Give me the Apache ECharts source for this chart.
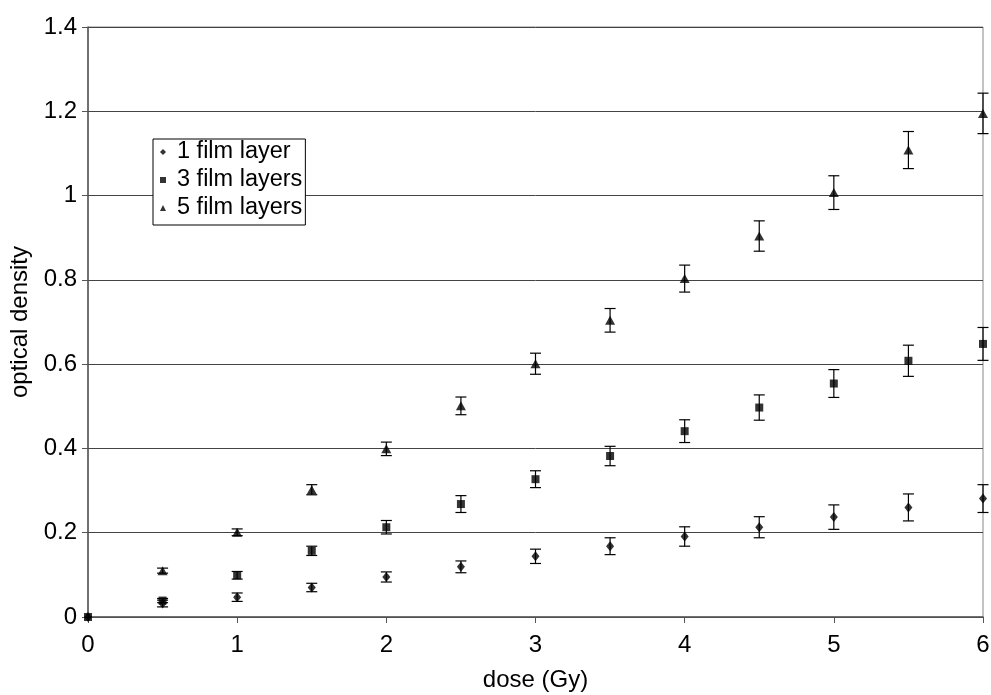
<!DOCTYPE html>
<html>
<head>
<meta charset="utf-8">
<script src="https://cdn.jsdelivr.net/npm/echarts@6/dist/echarts.min.js"></script>
<style>
  html, body { margin: 0; padding: 0; background: #fff; }
  #chart { width: 991px; height: 695px; }
</style>
</head>
<body>
<div id="chart"></div>
<script>
// dose values (Gy)
const dose = [0, 0.5, 1, 1.5, 2, 2.5, 3, 3.5, 4, 4.5, 5, 5.5, 6];

// optical density + error
const od1 = [0, 0.032, 0.047, 0.070, 0.095, 0.119, 0.144, 0.168, 0.191, 0.213, 0.237, 0.260, 0.281];
const err1 = [0, 0.008, 0.010, 0.010, 0.012, 0.014, 0.017, 0.020, 0.023, 0.025, 0.029, 0.032, 0.033];

const od3 = [0, 0.039, 0.099, 0.157, 0.213, 0.268, 0.327, 0.382, 0.441, 0.497, 0.554, 0.608, 0.648];
const err3 = [0, 0.005, 0.009, 0.011, 0.016, 0.020, 0.020, 0.023, 0.027, 0.030, 0.033, 0.037, 0.039];

// 5 layers: no point drawn at 0
const dose5 = [0.5, 1, 1.5, 2, 2.5, 3, 3.5, 4, 4.5, 5, 5.5, 6];
const od5 = [0.110, 0.201, 0.302, 0.399, 0.501, 0.601, 0.704, 0.803, 0.904, 1.007, 1.108, 1.195];
const err5 = [0.006, 0.008, 0.012, 0.016, 0.021, 0.025, 0.028, 0.032, 0.036, 0.040, 0.044, 0.048];

function pts(xs, ys) {
  return xs.map((x, i) => [x, ys[i]]);
}
function errPts(xs, ys, es) {
  return xs.map((x, i) => [x, ys[i], es[i]]);
}

// draws a vertical error bar with caps
function errorBar(params, api) {
  const x = api.value(0), y = api.value(1), e = api.value(2);
  if (!e) return null;
  const lo = api.coord([x, y - e]);
  const hi = api.coord([x, y + e]);
  const cap = 5.5;
  const st = { stroke: '#000', lineWidth: 1.2 };
  return {
    type: 'group',
    children: [
      { type: 'line', shape: { x1: lo[0], y1: lo[1], x2: hi[0], y2: hi[1] }, style: st },
      { type: 'line', shape: { x1: lo[0] - cap, y1: lo[1], x2: lo[0] + cap, y2: lo[1] }, style: st },
      { type: 'line', shape: { x1: hi[0] - cap, y1: hi[1], x2: hi[0] + cap, y2: hi[1] }, style: st }
    ]
  };
}

const font = '"Liberation Sans", Arial, sans-serif';
const fs = 24;

const chart = echarts.init(document.getElementById('chart'));
chart.setOption({
  animation: false,
  backgroundColor: '#fff',
  grid: {
    left: 88, right: 8, top: 27, bottom: 78,
    outerBoundsMode: 'none',
    show: true, borderColor: '#888', borderWidth: 1, backgroundColor: 'transparent'
  },
  legend: {
    orient: 'vertical',
    left: 153, top: 139,
    padding: [1, 3, 5, 7],
    itemGap: 4,
    itemWidth: 6, itemHeight: 6,
    backgroundColor: '#fff',
    borderColor: '#000', borderWidth: 1, borderRadius: 0,
    textStyle: { fontFamily: font, fontSize: 23.5, color: '#000', padding: [0, 0, 0, 6], lineHeight: 23 },
    data: ['1 film layer', '3 film layers', '5 film layers']
  },
  xAxis: {
    type: 'value',
    min: 0, max: 6, interval: 1,
    name: 'dose (Gy)',
    nameLocation: 'middle',
    nameGap: 51,
    nameTextStyle: { fontFamily: font, fontSize: fs, color: '#000' },
    axisLine: { show: true, lineStyle: { color: '#555', width: 1.5 } },
    axisTick: { show: true, inside: false, length: 6, lineStyle: { color: '#555' } },
    axisLabel: { fontFamily: font, fontSize: fs, color: '#000', margin: 16 },
    splitLine: { show: false }
  },
  yAxis: {
    type: 'value',
    min: 0, max: 1.4, interval: 0.2,
    name: 'optical density',
    nameLocation: 'middle',
    nameGap: 52,
    nameRotate: 90,
    nameTextStyle: { fontFamily: font, fontSize: fs, color: '#000' },
    axisLine: { show: true, lineStyle: { color: '#555', width: 1.5 } },
    axisTick: { show: true, inside: false, length: 6, lineStyle: { color: '#555' } },
    axisLabel: {
      fontFamily: font, fontSize: fs, color: '#000', margin: 11,
      formatter: v => String(+v.toFixed(1))
    },
    splitLine: { show: true, lineStyle: { color: '#444', width: 1 } }
  },
  series: [
    {
      name: '1 film layer', type: 'scatter', symbol: 'diamond', symbolSize: [8, 10],
      itemStyle: { color: '#000' }, data: pts(dose, od1), z: 3
    },
    {
      name: '3 film layers', type: 'scatter', symbol: 'rect', symbolSize: 8,
      itemStyle: { color: '#000' }, data: pts(dose, od3), z: 3
    },
    {
      name: '5 film layers', type: 'scatter', symbol: 'triangle', symbolSize: [10, 9],
      itemStyle: { color: '#000' }, data: pts(dose5, od5), z: 3
    },
    { type: 'custom', renderItem: errorBar, data: errPts(dose, od1, err1), z: 2, silent: true },
    { type: 'custom', renderItem: errorBar, data: errPts(dose, od3, err3), z: 2, silent: true },
    { type: 'custom', renderItem: errorBar, data: errPts(dose5, od5, err5), z: 2, silent: true }
  ]
});
</script>
</body>
</html>
